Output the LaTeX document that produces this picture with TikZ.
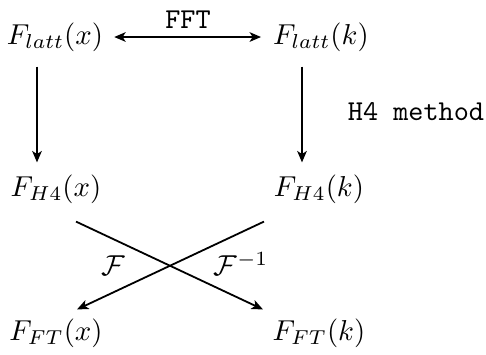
\documentclass[tikz,border=0pt]{standalone}
\usetikzlibrary{calc,arrows.meta}
\begin{document}
\begin{tikzpicture}[x=0.3333pt,y=-0.3333pt,
  txt/.style={scale=0.96,transform shape},
  lbl/.style={txt,inner sep=3.33pt},
  conn/.style={-{Stealth[length=3.8pt,width=3.2pt,inset=1pt]},line width=0.6pt}]
\useasboundingbox (0,0) rectangle (486,354);
\node[lbl] (lx) at (55,37) {$F_{latt}(x)$};
\node[lbl] (lk) at (321,37) {$F_{latt}(k)$};
\node[lbl] (hx) at (56,189) {$F_{H4}(x)$};
\node[lbl] (hk) at (319,189) {$F_{H4}(k)$};
\node[lbl] (fx) at (56,333) {$F_{FT}(x)$};
\node[lbl] (fk) at (319,333) {$F_{FT}(k)$};
\node[txt] (fft) at (188,20) {\texttt{FFT}};
\node[txt] (h4m) at (416,112) {\texttt{H4 method}};
\node[txt] (f1) at (113,266) {$\mathcal{F}$};
\node[txt] (f2) at (241,264) {$\mathcal{F}^{-1}$};
\draw[conn,{Stealth[length=3.8pt,width=3.2pt,inset=1pt]}-{Stealth[length=3.8pt,width=3.2pt,inset=1pt]}] ($(lx.east)+(1,0)$) -- ($(lk.west)+(-2,0)$);
\draw[conn] ($(lx.south)+(-18,5)$) -- ($(hx.north)+(-19,-2)$);
\draw[conn] ($(lk.south)+(-19,5)$) -- ($(hk.north)+(-17,-2)$);
\draw[conn] ($(hx.south)+(20,8)$) -- ($(fk.north)+(-56,1)$);
\draw[conn] ($(hk.south)+(-55,8)$) -- ($(fx.north)+(21,1)$);
\end{tikzpicture}
\end{document}
